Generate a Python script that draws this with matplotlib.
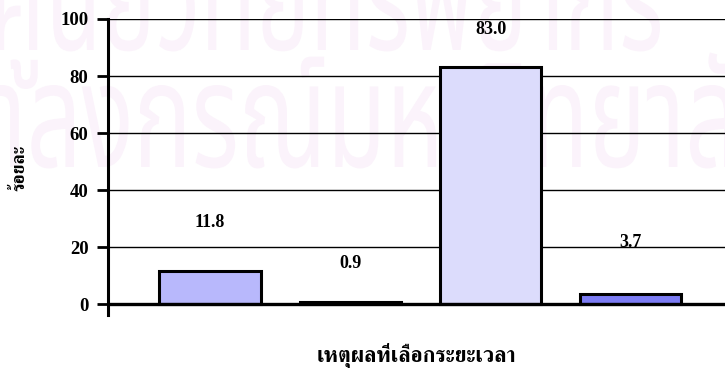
import matplotlib
matplotlib.use("Agg")
import matplotlib.pyplot as plt
from matplotlib.textpath import TextPath
from matplotlib.patches import PathPatch
from matplotlib.font_manager import FontProperties
from matplotlib import transforms

# ---- data ----
categories = ["1", "2", "3", "4"]
values = [11.8, 0.9, 83.0, 3.7]
value_labels = ["11.8", "0.9", "83.0", "3.7"]
y_ticks = [0, 20, 40, 60, 80, 100]
y_label = "ร้อยละ"
x_label = "เหตุผลที่เลือกระยะเวลา"
watermark_lines = ["ศูนย์วิทยทรัพยากร", "จุฬาลงกรณ์มหาวิทยาลัย"]

bar_colors = ["#b8b8fc", "#3a3050", "#dcdcfc", "#7c7cf4"]
label_offsets = [17.0, 13.5, 13.3, 18.0]

W, H = 725, 368
fig = plt.figure(figsize=(W / 100, H / 100), dpi=100)

# ---- faint watermark (drawn in pixel coordinates) ----
wm_font = FontProperties(family="Noto Sans Thai", weight="light")
ref = TextPath((0, 0), "น", size=100, prop=wm_font)
ref_h = ref.get_extents().height
# (left px, right px, baseline px from top, body height px)
wm_layout = [(-4, 660, 50, 82), (-125, 790, 167, 82)]
for text, (x0, x1, base, bh) in zip(watermark_lines, wm_layout):
    tp = TextPath((0, 0), text, size=100, prop=wm_font)
    ext = tp.get_extents()
    sx = (x1 - x0) / ext.width
    sy = bh / ref_h
    tr = transforms.Affine2D().translate(-ext.x0, 0).scale(sx, sy).translate(x0, H - base)
    fig.patches.append(PathPatch(tp, transform=tr, facecolor="#fbf3fb",
                                 edgecolor="none", zorder=-5))

# ---- axes ----
ymin = -3.8
ax = fig.add_axes([108 / W, 1 - 315 / H, 1 - 108 / W, (315 - 19) / H])
ax.set_zorder(2)
ax.set_facecolor("none")
x = list(range(len(categories)))
ax.bar(x, values, width=0.72, color=bar_colors, edgecolor="black",
       linewidth=2.2, zorder=3)
for xi, v, lab, off in zip(x, values, value_labels, label_offsets):
    ax.text(xi, v + off, lab, ha="center", va="center", fontsize=13,
            fontweight="bold", family="Liberation Serif", zorder=4)

step = 140.3
ax.set_xlim((108 - 210) / step, (W - 210) / step)
ax.set_ylim(ymin, 100)
ax.set_yticks(y_ticks)
ax.set_yticklabels([str(t) for t in y_ticks], fontsize=13.5,
                   fontweight="bold", family="Liberation Serif")
ax.set_xticks([])
for t in y_ticks[1:]:
    ax.axhline(t, color="black", linewidth=1.0, zorder=1)
ax.axhline(0, color="black", linewidth=2.4, zorder=5)

for s in ["top", "right", "bottom"]:
    ax.spines[s].set_visible(False)
ax.spines["left"].set_linewidth(2.2)
ax.spines["left"].set_bounds(ymin, 100)
ax.spines["left"].set_zorder(6)
ax.tick_params(axis="y", direction="out", length=8, width=2.0, pad=6)

fig.text(20 / W, 1 - 168 / H, y_label, rotation=90, ha="center", va="center",
         fontsize=13, fontweight="bold", family=["FreeSerif", "DejaVu Sans"],
         zorder=5)
fig.text(416 / W, 1 - 355 / H, x_label, ha="center", va="center",
         fontsize=15.5, fontweight="bold", family=["FreeSerif", "DejaVu Sans"],
         zorder=5)

fig.savefig("out.png", dpi=100)
